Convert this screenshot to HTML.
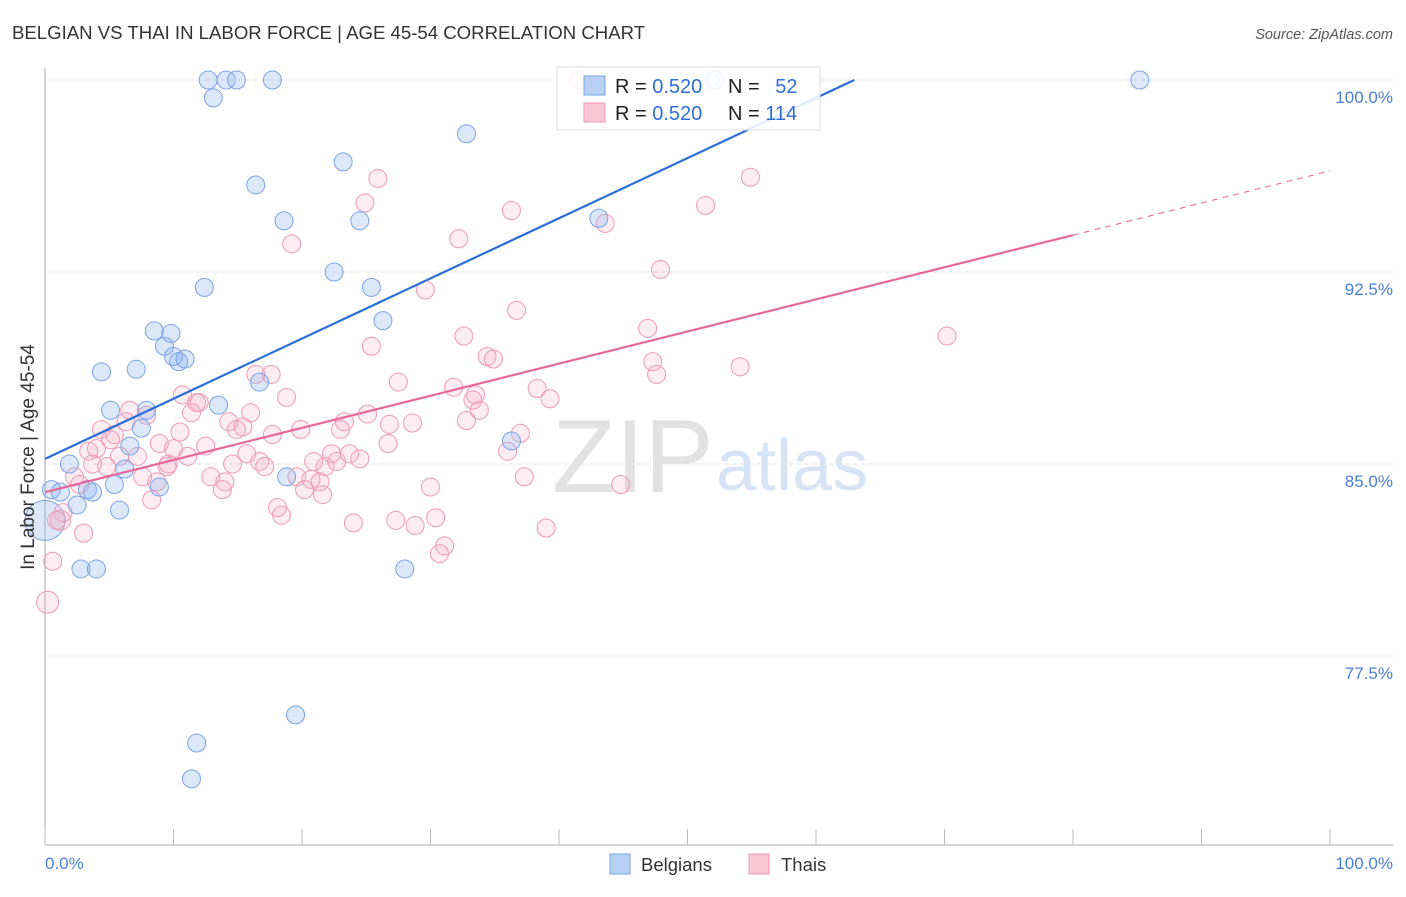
<!DOCTYPE html>
<html><head><meta charset="utf-8"><style>
body{margin:0;background:#fff;font-family:"Liberation Sans",sans-serif;}
svg text{font-family:"Liberation Sans",sans-serif;}
</style></head><body>
<svg width="1406" height="892" viewBox="0 0 1406 892" xmlns="http://www.w3.org/2000/svg">
<text x="12" y="39" font-size="18.6" fill="#333">BELGIAN VS THAI IN LABOR FORCE | AGE 45-54 CORRELATION CHART</text>
<text x="1393" y="39" font-size="14.5" fill="#555" font-style="italic" text-anchor="end">Source: ZipAtlas.com</text>
<g id="grid"></g>
<g>
<text x="552" y="492" font-size="104" fill="#e2e2e2" font-family="Liberation Serif,serif">ZIP</text>
<text x="716" y="490" font-size="72" fill="#d6e4f6">atlas</text>
</g>
<line x1="45" y1="68" x2="45" y2="845" stroke="#aaa"/>
<line x1="45" y1="845" x2="1393" y2="845" stroke="#aaa"/>
<g id="ticks"></g>
<g id="pts"></g>
<g id="lines"></g>
<text x="45" y="869" font-size="17" fill="#4a7fd4">0.0%</text>
<text x="1393" y="869" font-size="17" fill="#4a7fd4" text-anchor="end">100.0%</text>
<text transform="translate(34,457) rotate(-90)" font-size="19" fill="#333" text-anchor="middle">In Labor Force | Age 45-54</text>
<g>
<rect x="557" y="67" width="263" height="63" fill="#fff" fill-opacity="0.85" stroke="#ddd"/>
<rect x="584" y="76" width="21" height="19" fill="#b7d0f3" stroke="#7aa6e8"/>
<rect x="584" y="103" width="21" height="19" fill="#f9c6d6" stroke="#ee9ab5"/>
<text x="615" y="93" font-size="20" fill="#222">R = <tspan fill="#2e6fd6">0.520</tspan></text>
<text x="728" y="93" font-size="20" fill="#222">N = <tspan fill="#2e6fd6" dx="10">52</tspan></text>
<text x="615" y="120" font-size="20" fill="#222">R = <tspan fill="#2e6fd6">0.520</tspan></text>
<text x="728" y="120" font-size="20" fill="#222">N = <tspan fill="#2e6fd6">114</tspan></text>
</g>
<g>
<rect x="610" y="854" width="20" height="20" fill="#b7d0f3" stroke="#7aa6e8"/>
<text x="641" y="871" font-size="18.5" fill="#333">Belgians</text>
<rect x="749" y="854" width="20" height="20" fill="#f9c6d6" stroke="#ee9ab5"/>
<text x="781" y="871" font-size="18.5" fill="#333">Thais</text>
</g>
</svg>
<script>
const yTicks=[100,92.5,85,77.5];
const yTickLabels=["100.0%","92.5%","85.0%","77.5%"];
const blueX=[0.5,1.2,1.9,2.5,2.8,3.3,3.7,4.0,4.4,5.1,5.4,5.8,6.2,6.6,7.1,7.5,7.9,8.5,8.9,9.3,9.8,10.0,10.4,10.9,11.8,11.4,12.4,12.7,13.1,13.5,14.1,14.9,16.4,16.7,17.7,18.6,18.8,19.5,22.5,23.2,24.5,25.4,26.3,28.0,32.8,36.3,43.1,52.1,85.2];
const blueY=[84.0,83.9,85.0,83.4,80.9,84.0,83.9,80.9,88.6,87.1,84.2,83.2,84.8,85.7,88.7,86.4,87.1,90.2,84.1,89.6,90.1,89.2,89.0,89.1,74.1,72.7,91.9,100,99.3,87.3,100,100,95.9,88.2,100,94.5,84.5,75.2,92.5,96.8,94.5,91.9,90.6,80.9,97.9,85.9,94.6,100,100];
const pinkX=[25.9,24.9,19.2,25.4,16.4,17.6,27.5,18.8,10.7,12.0,11.8,11.4,16.0,6.6,7.9,4.4,5.4,5.1,3.4,4.0,6.3,10.5,14.3,14.9,15.4,17.7,19.9,23.3,23.0,25.1,26.8,26.7,28.6,12.5,8.9,10.0,11.1,15.7,5.8,7.2,3.7,4.8,9.6,9.5,14.6,16.7,17.1,22.3,22.7,23.7,24.5,20.9,21.8,19.6,7.6,8.7,12.9,14.0,13.8,20.7,21.4,20.2,21.6,2.3,2.7,8.3,18.1,18.4,24.0,27.3,28.8,3.0,1.4,0.9,0.6,41.6,36.3,32.2,43.6,54.9,51.4,47.9,29.6,36.7,32.6,34.4,34.9,46.9,47.3,47.6,54.1,31.8,33.5,33.3,33.8,32.8,38.3,39.3,37.0,36.0,37.3,30.0,44.8,30.4,39.0,31.1,30.7,70.2];
const pinkY=[96.15,95.2,93.6,89.6,88.5,88.5,88.2,87.6,87.7,87.4,87.4,87.0,87.0,87.1,86.9,86.35,86.15,85.95,85.5,85.6,86.65,86.25,86.65,86.35,86.45,86.15,86.35,86.65,86.35,86.95,86.55,85.8,86.6,85.7,85.8,85.6,85.3,85.4,85.3,85.3,85.0,84.9,85.0,84.9,85.0,85.1,84.9,85.4,85.1,85.4,85.2,85.1,84.9,84.5,84.5,84.3,84.5,84.3,84.0,84.4,84.3,84.0,83.8,84.5,84.2,83.6,83.3,83.0,82.7,82.8,82.6,82.3,83.1,82.8,81.2,100,94.9,93.8,94.4,96.2,95.1,92.6,91.8,91.0,90.0,89.2,89.1,90.3,89.0,88.5,88.8,88.0,87.7,87.5,87.1,86.7,87.95,87.55,86.2,85.5,84.5,84.1,84.2,82.9,82.5,81.8,81.5,90.0];
const bigBlue=[0,82.8];
const bigPink=[[1.2,82.8],[0.2,79.6]];
const blueFit=[85.2,0.235];
const pinkFit=[83.9,0.1255];
const NS="http://www.w3.org/2000/svg";
const X=v=>45+v*12.85;
const Y=v=>80+(100-v)*25.6;
function mk(t,a,p){const e=document.createElementNS(NS,t);for(const k in a)e.setAttribute(k,a[k]);p.appendChild(e);return e;}
const grid=document.getElementById('grid');
yTicks.forEach((t,i)=>{
 const l=mk('line',{x1:45,x2:1393,y1:Y(t),y2:Y(t),stroke:'#ddd','stroke-dasharray':'4,4'},grid);
 
 
 const tx=mk('text',{x:1393,y:Y(t)+23,'font-size':17,fill:'#4a7fd4','text-anchor':'end'},grid);
 tx.textContent=yTickLabels[i];
 
 
});
const ticks=document.getElementById('ticks');
for(let k=0;k<=10;k++){mk('line',{x1:X(k*10),x2:X(k*10),y1:829,y2:845,stroke:'#bbb'},ticks);}
const pts=document.getElementById('pts');
function dot(x,y,r,c){
 const fill=c==='b'?'rgba(140,180,240,0.3)':'rgba(245,170,195,0.22)';
 const st=c==='b'?'#7aa3e3':'#ec9ab6';
 const e=mk('circle',{cx:X(x),cy:Y(y),r:r,fill:fill,stroke:st,'stroke-width':1},pts);
 
 
}
dot(bigBlue[0],bigBlue[1],20,'b');
bigPink.forEach(p=>dot(p[0],p[1],p[1]<80?11:10,'p'));
pinkX.forEach((x,i)=>dot(x,pinkY[i],9,'p'));
blueX.forEach((x,i)=>dot(x,blueY[i],9,'b'));
const lines=document.getElementById('lines');
const bxEnd=(100-blueFit[0])/blueFit[1];
const bl=mk('line',{x1:X(0),y1:Y(blueFit[0]),x2:X(bxEnd),y2:Y(100),stroke:'#2a6fd8','stroke-width':2.2},lines);


const pl=mk('line',{x1:X(0),y1:Y(pinkFit[0]),x2:X(80),y2:Y(pinkFit[0]+pinkFit[1]*80),stroke:'#e8679a','stroke-width':2.2},lines);


const pd=mk('line',{x1:X(80),y1:Y(pinkFit[0]+pinkFit[1]*80),x2:X(100),y2:Y(pinkFit[0]+pinkFit[1]*100),stroke:'#e8679a','stroke-width':1,'stroke-dasharray':'6,5'},lines);


</script>
</body></html>
